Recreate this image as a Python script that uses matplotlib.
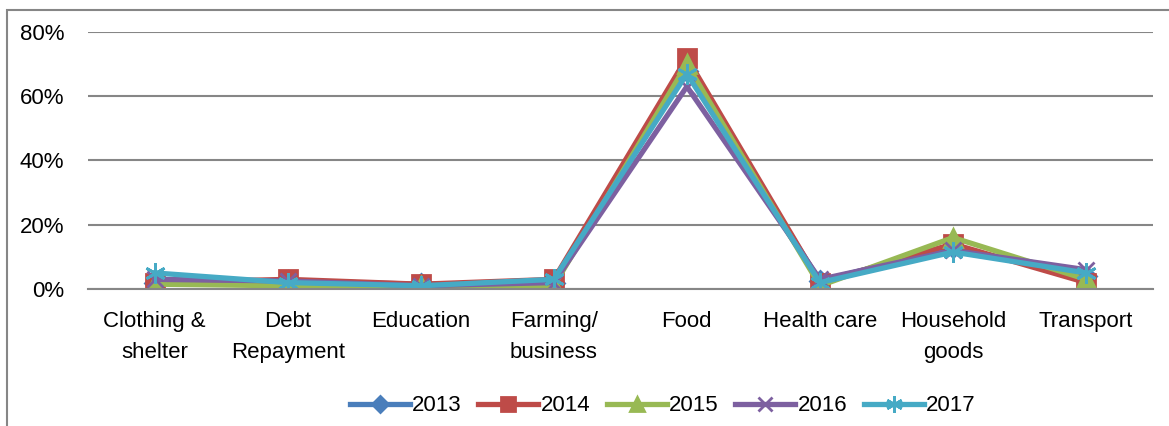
import matplotlib.pyplot as plt
import matplotlib as mpl
from matplotlib.patches import Rectangle

mpl.rcParams['font.family'] = ['Liberation Sans', 'DejaVu Sans']

categories = ['Clothing &\nshelter', 'Debt\nRepayment', 'Education', 'Farming/\nbusiness',
              'Food', 'Health care', 'Household\ngoods', 'Transport']
years = ['2013', '2014', '2015', '2016', '2017']
s2013 = [0.020, 0.025, 0.015, 0.020, 0.680, 0.025, 0.130, 0.040]
s2014 = [0.020, 0.030, 0.015, 0.030, 0.720, 0.020, 0.140, 0.020]
s2015 = [0.015, 0.010, 0.010, 0.010, 0.700, 0.010, 0.160, 0.030]
s2016 = [0.030, 0.025, 0.010, 0.020, 0.630, 0.030, 0.120, 0.060]
s2017 = [0.050, 0.020, 0.010, 0.030, 0.670, 0.020, 0.115, 0.050]
series = [s2013, s2014, s2015, s2016, s2017]

colors = ['#4A7EBB', '#BE4B48', '#98B954', '#7D60A0', '#46AAC5']
markers = ['D', 's', '^', 'x', (6, 2, 0)]
msizes = [10, 13, 13, 12, 15]

fig = plt.figure(figsize=(11.69, 4.26), dpi=100)
ax = fig.add_axes([0.0753, 0.3216, 0.9107, 0.6034])

x = range(len(categories))
for vals, yr, c, m, ms in zip(series, years, colors, markers, msizes):
    ax.plot(x, vals, color=c, lw=3.8, marker=m, markersize=ms,
            markeredgecolor=c, markeredgewidth=2, label=yr)

ax.set_xlim(-0.5, len(categories) - 0.5)
ax.set_ylim(0, 0.8)
ax.set_yticks([0, 0.2, 0.4, 0.6, 0.8])
ax.set_yticklabels(['0%', '20%', '40%', '60%', '80%'], fontsize=16)
ax.set_xticks(list(x))
ax.set_xticklabels(categories, fontsize=16, linespacing=1.6)
ax.tick_params(length=0)
ax.tick_params(axis='y', pad=17)
ax.tick_params(axis='x', pad=16)
ax.grid(axis='y', color='#868686', lw=1.5)
ax.set_axisbelow(True)
for sp in ['top', 'right', 'left']:
    ax.spines[sp].set_visible(False)
ax.spines['bottom'].set_color('#868686')
ax.spines['bottom'].set_linewidth(1.5)

fig.legend(loc='center', bbox_to_anchor=(0.567, 0.047), ncol=5, frameon=False,
           fontsize=16, handlelength=2.7, handletextpad=0.1, columnspacing=0.75,
           markerscale=0.8)

fig.patches.append(Rectangle((0.006, -0.1), 1.2, 1.077, transform=fig.transFigure,
                             fill=False, edgecolor='#868686', lw=1.5))

fig.savefig('out.png', dpi=100)
